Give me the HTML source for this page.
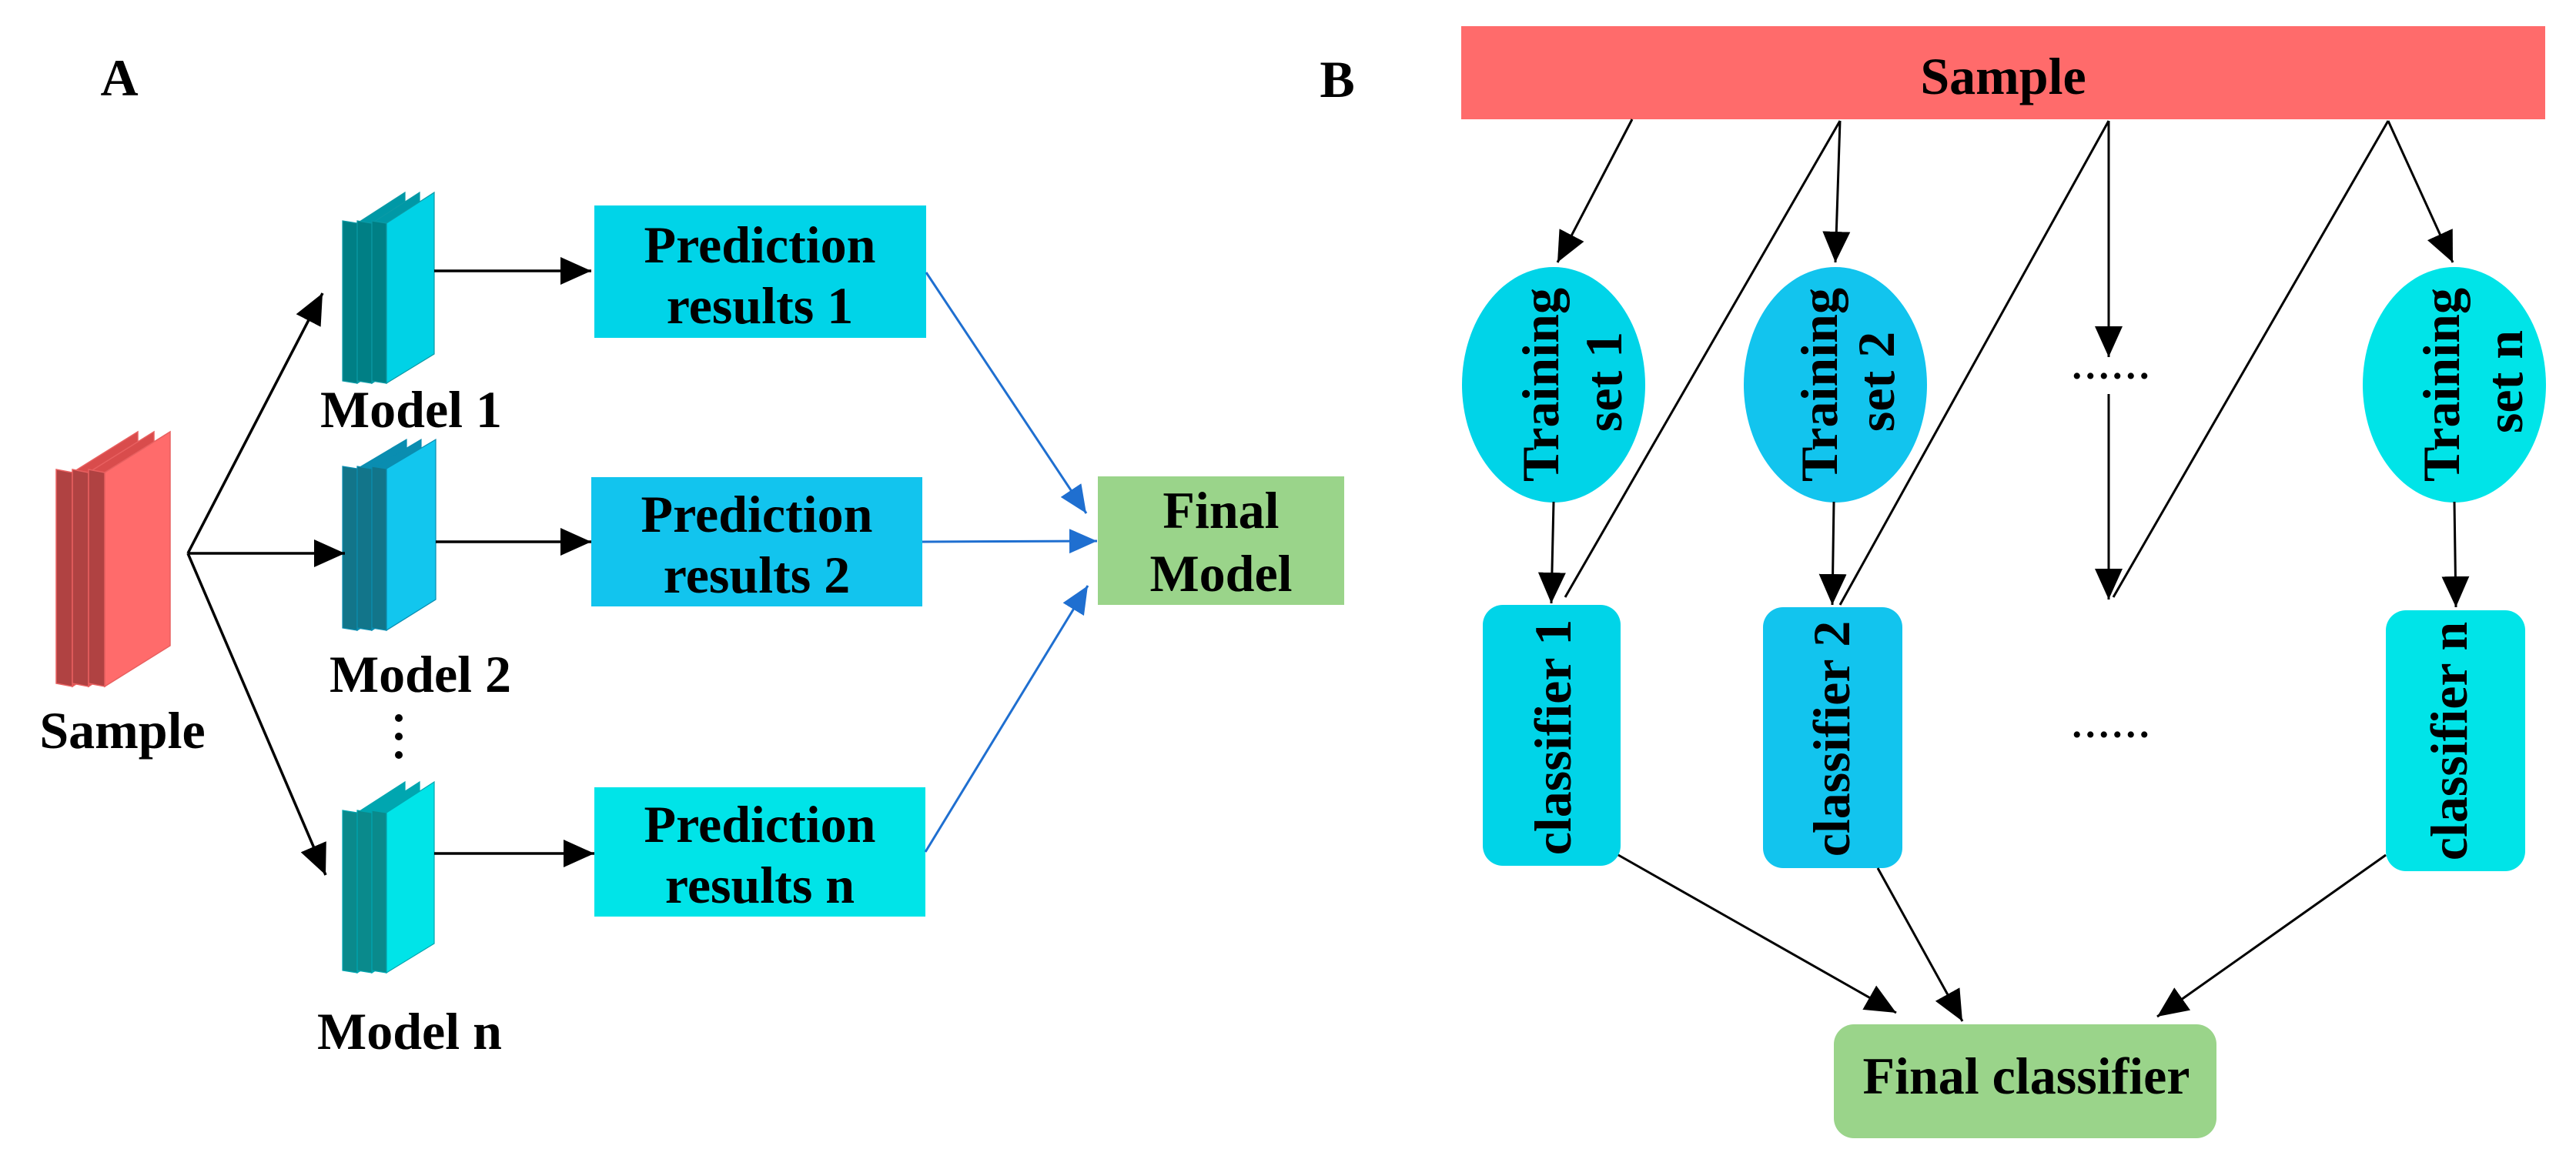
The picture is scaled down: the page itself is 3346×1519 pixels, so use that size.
<!DOCTYPE html>
<html><head><meta charset="utf-8"><style>
html,body{margin:0;padding:0;background:#fff;}
svg{display:block;}
text{font-family:"Liberation Serif",serif;font-weight:bold;fill:#000;}
</style></head><body>
<svg width="3346" height="1519" viewBox="0 0 3346 1519" xmlns="http://www.w3.org/2000/svg">
<defs>
<marker id="ab" markerUnits="userSpaceOnUse" markerWidth="44" markerHeight="40" refX="40" refY="18" orient="auto"><path d="M0,0 L40,18 L0,36 Z" fill="#000"/></marker>
<marker id="au" markerUnits="userSpaceOnUse" markerWidth="40" markerHeight="36" refX="36" refY="16" orient="auto"><path d="M0,0 L36,16 L0,32 Z" fill="#1F6FD0"/></marker>
</defs>

<text x="155" y="124" font-size="68" text-anchor="middle">A</text>
<text x="1737" y="126" font-size="68" text-anchor="middle">B</text>

<!-- Sample stack -->
<g stroke="#E86060" stroke-width="1.5">
<polygon points="94,614 179,561 179,839 94,892" fill="#D94C4C"/>
<polygon points="73,610 94,614 94,892 73,888" fill="#B04242"/>
<polygon points="115,614 200,561 200,839 115,892" fill="#D94C4C"/>
<polygon points="94,610 115,614 115,892 94,888" fill="#B04242"/>
<polygon points="136,614 221,561 221,839 136,892" fill="#FF6B6B"/>
<polygon points="115,610 136,614 136,892 115,888" fill="#B04242"/>
</g>
<text x="159" y="972" font-size="68" text-anchor="middle">Sample</text>

<!-- Model 1 -->
<g stroke="#0A9AA6" stroke-width="1.2">
<polygon points="464,290 526,250 526,460 464,498" fill="#0098A6"/>
<polygon points="445,287 464,290 464,498 445,495" fill="#007F85"/>
<polygon points="483,290 545,250 545,460 483,498" fill="#0098A6"/>
<polygon points="464,287 483,290 483,498 464,495" fill="#007F85"/>
<polygon points="502,290 564,250 564,460 502,498" fill="#00D2E6"/>
<polygon points="483,287 502,290 502,498 483,495" fill="#007F85"/>
</g>
<!-- Model 2 -->
<g stroke="#0A8DB0" stroke-width="1.2">
<polygon points="464,609 528,571 528,779 464,819" fill="#0A8DB0"/>
<polygon points="445,606 464,609 464,819 445,816" fill="#12758A"/>
<polygon points="483,609 547,571 547,779 483,819" fill="#0A8DB0"/>
<polygon points="464,606 483,609 483,819 464,816" fill="#12758A"/>
<polygon points="502,609 566,571 566,779 502,819" fill="#12C6EE"/>
<polygon points="483,606 502,609 502,819 483,816" fill="#12758A"/>
</g>
<!-- Model n -->
<g stroke="#00A6B0" stroke-width="1.2">
<polygon points="464,1056 526,1016 526,1226 464,1264" fill="#00A6B0"/>
<polygon points="445,1053 464,1056 464,1264 445,1261" fill="#0A8A8C"/>
<polygon points="483,1056 545,1016 545,1226 483,1264" fill="#00A6B0"/>
<polygon points="464,1053 483,1056 483,1264 464,1261" fill="#0A8A8C"/>
<polygon points="502,1056 564,1016 564,1226 502,1264" fill="#00E4E8"/>
<polygon points="483,1053 502,1056 502,1264 483,1261" fill="#0A8A8C"/>
</g>

<text x="534" y="555" font-size="68" text-anchor="middle">Model 1</text>
<text x="546" y="899" font-size="68" text-anchor="middle">Model 2</text>
<circle cx="518" cy="933" r="5"/><circle cx="518" cy="957" r="5"/><circle cx="518" cy="981" r="5"/>
<text x="532" y="1363" font-size="68" text-anchor="middle">Model n</text>

<!-- Prediction boxes -->
<rect x="772" y="267" width="431" height="172" fill="#00D4E8"/>
<text x="987" y="341" font-size="68" text-anchor="middle">Prediction</text>
<text x="987" y="420" font-size="68" text-anchor="middle">results 1</text>
<rect x="768" y="620" width="430" height="168" fill="#12C4EE"/>
<text x="983" y="691" font-size="68" text-anchor="middle">Prediction</text>
<text x="983" y="770" font-size="68" text-anchor="middle">results 2</text>
<rect x="772" y="1023" width="430" height="168" fill="#00E4E8"/>
<text x="987" y="1094" font-size="68" text-anchor="middle">Prediction</text>
<text x="987" y="1173" font-size="68" text-anchor="middle">results n</text>

<rect x="1426" y="619" width="320" height="167" fill="#9AD48A"/>
<text x="1586" y="686" font-size="68" text-anchor="middle">Final</text>
<text x="1586" y="768" font-size="68" text-anchor="middle">Model</text>

<!-- left arrows -->
<g stroke="#000" stroke-width="3.5" fill="none">
<line x1="244" y1="719" x2="419" y2="381" marker-end="url(#ab)"/>
<line x1="244" y1="719" x2="448" y2="719" marker-end="url(#ab)"/>
<line x1="244" y1="719" x2="423" y2="1137" marker-end="url(#ab)"/>
<line x1="564" y1="352" x2="768" y2="352" marker-end="url(#ab)"/>
<line x1="566" y1="704" x2="768" y2="704" marker-end="url(#ab)"/>
<line x1="564" y1="1109" x2="772" y2="1109" marker-end="url(#ab)"/>
</g>
<g stroke="#1F6FD0" stroke-width="3" fill="none">
<line x1="1203" y1="354" x2="1411" y2="667" marker-end="url(#au)"/>
<line x1="1198" y1="704" x2="1425" y2="703" marker-end="url(#au)"/>
<line x1="1202" y1="1107" x2="1413" y2="761" marker-end="url(#au)"/>
</g>

<!-- Right panel -->
<rect x="1898" y="34" width="1408" height="121" fill="#FF6B6B"/>
<text x="2602" y="122" font-size="68" text-anchor="middle">Sample</text>

<ellipse cx="2018" cy="500" rx="119" ry="153" fill="#00D4E8"/>
<ellipse cx="2384" cy="500" rx="119" ry="153" fill="#12C4EE"/>
<ellipse cx="3188" cy="500" rx="119" ry="153" fill="#00E4E8"/>
<g font-size="68" text-anchor="middle">
<text transform="translate(2024,500) rotate(-90)">Training</text>
<text transform="translate(2106,496) rotate(-90)">set 1</text>
<text transform="translate(2386,500) rotate(-90)">Training</text>
<text transform="translate(2460,496) rotate(-90)">set 2</text>
<text transform="translate(3194,500) rotate(-90)">Training</text>
<text transform="translate(3276,496) rotate(-90)">set n</text>
</g>

<rect x="1926" y="786" width="179" height="339" rx="26" fill="#00D4E8"/>
<rect x="2290" y="789" width="181" height="339" rx="26" fill="#12C4EE"/>
<rect x="3099" y="793" width="181" height="339" rx="26" fill="#00E4E8"/>
<g font-size="68" text-anchor="middle">
<text transform="translate(2040,958) rotate(-90)">classifier 1</text>
<text transform="translate(2402,960) rotate(-90)">classifier 2</text>
<text transform="translate(3204,963) rotate(-90)">classifier n</text>
</g>

<rect x="2382" y="1331" width="497" height="148" rx="26" fill="#9AD48A"/>
<text x="2632" y="1421" font-size="68" text-anchor="middle">Final classifier</text>

<text x="2744" y="492" font-size="50" text-anchor="middle" font-weight="normal" letter-spacing="5">......</text>
<text x="2744" y="958" font-size="50" text-anchor="middle" font-weight="normal" letter-spacing="5">......</text>

<g stroke="#000" stroke-width="3" fill="none">
<line x1="2120" y1="155" x2="2023" y2="341" marker-end="url(#ab)"/>
<line x1="2390" y1="157" x2="2384" y2="341" marker-end="url(#ab)"/>
<line x1="2390" y1="157" x2="2033" y2="776"/>
<line x1="2018" y1="652" x2="2015" y2="784" marker-end="url(#ab)"/>
<line x1="2382" y1="652" x2="2380" y2="786" marker-end="url(#ab)"/>
<line x1="2739" y1="157" x2="2390" y2="786"/>
<line x1="2739" y1="157" x2="2739" y2="464" marker-end="url(#ab)"/>
<line x1="2739" y1="512" x2="2739" y2="779" marker-end="url(#ab)"/>
<line x1="3102" y1="157" x2="2745" y2="776"/>
<line x1="3102" y1="157" x2="3186" y2="341" marker-end="url(#ab)"/>
<line x1="3188" y1="652" x2="3190" y2="789" marker-end="url(#ab)"/>
<line x1="2102" y1="1111" x2="2463" y2="1316" marker-end="url(#ab)"/>
<line x1="2439" y1="1128" x2="2549" y2="1327" marker-end="url(#ab)"/>
<line x1="3099" y1="1111" x2="2802" y2="1321" marker-end="url(#ab)"/>
</g>
</svg>
</body></html>
